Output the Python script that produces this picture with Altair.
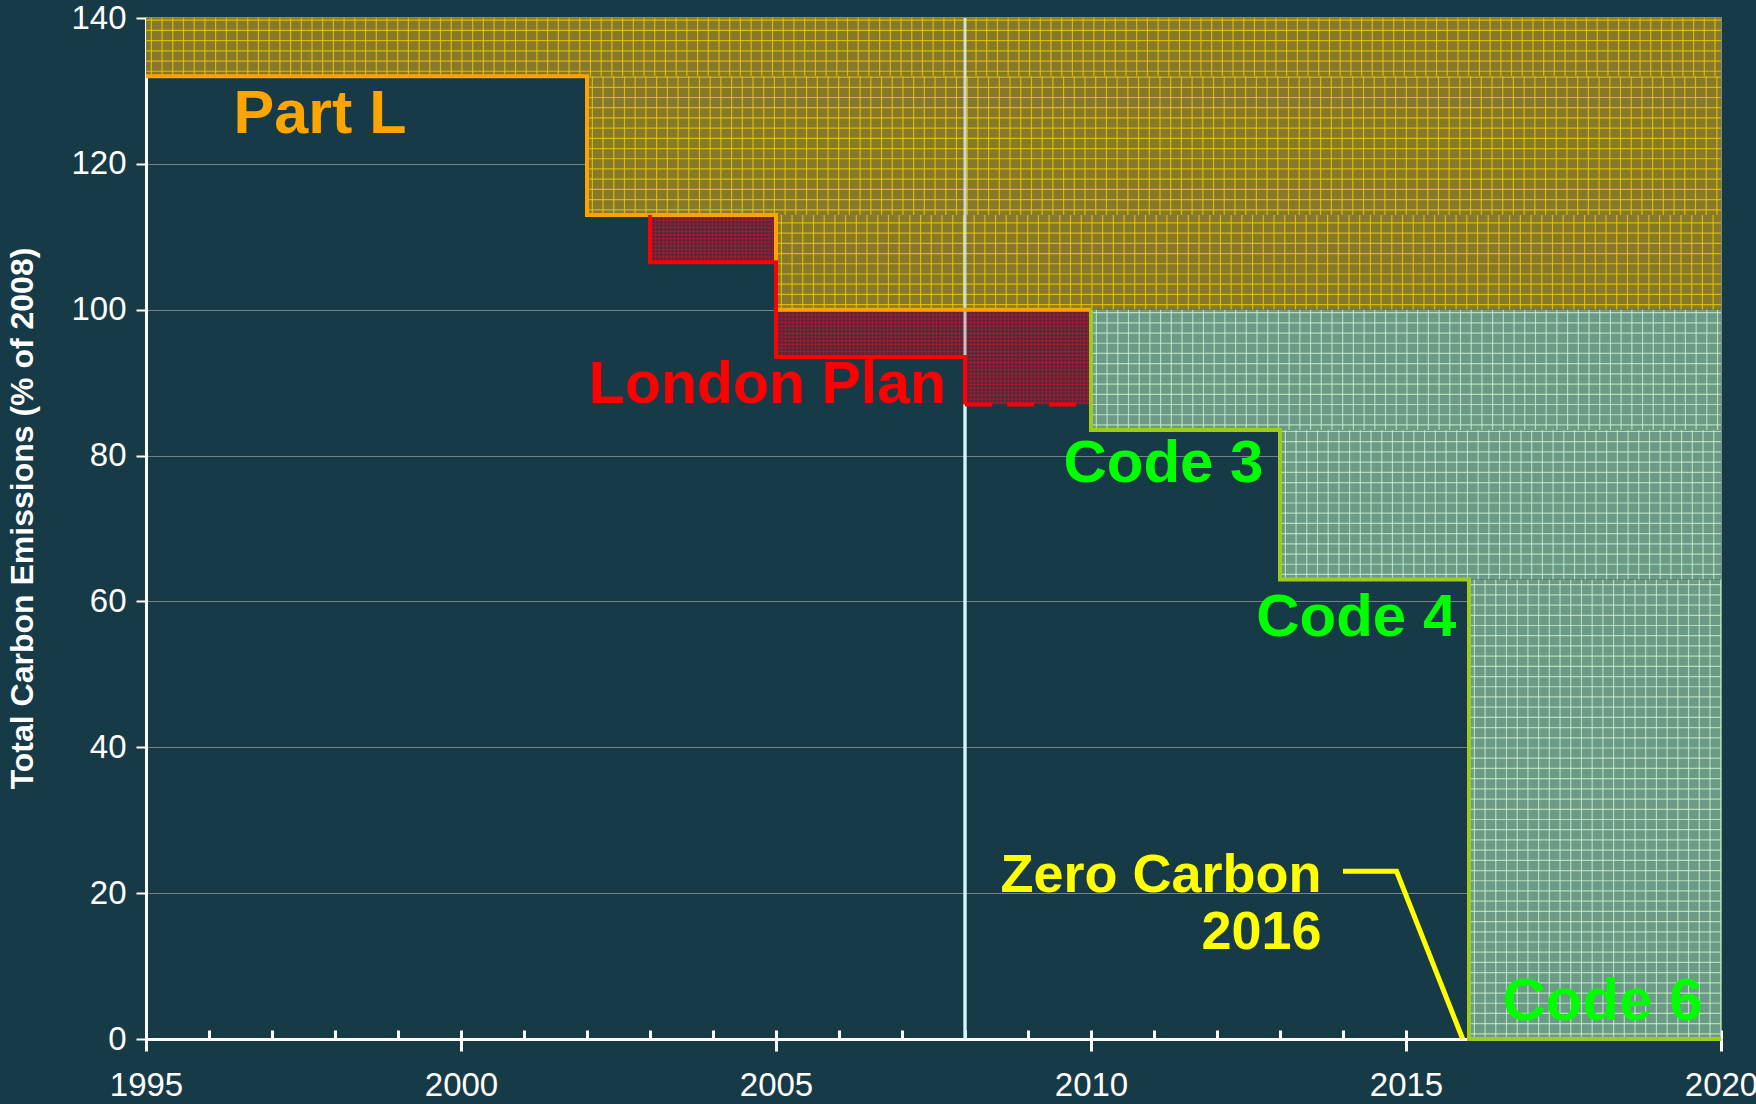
import altair as alt
import numpy as np
import pandas as pd

BG = "#173a47"
FONT = "Liberation Sans"

# Axis ticks
year_ticks = [1995, 2000, 2005, 2010, 2015, 2020]
minor_year_ticks = [1995, 1996, 1997, 1998, 1999, 2000, 2001, 2002, 2003, 2004,
                    2005, 2006, 2007, 2008, 2009, 2010, 2011, 2012, 2013, 2014,
                    2015, 2016, 2017, 2018, 2019, 2020]
level_ticks = [0, 20, 40, 60, 80, 100, 120, 140]

# Part L requirement (step line)
partl_years = [1995, 2002, 2005, 2010]
partl_levels = [132, 113, 100, 100]

# London Plan requirement (step line, then proposed level dashed)
london_years = [2003, 2003, 2005, 2008]
london_levels = [113, 106.5, 93.5, 87]
london_future_years = [2008, 2010]
london_future_levels = [87, 87]

# Code for Sustainable Homes trajectory
code_years = [2010, 2010, 2013, 2016, 2020]
code_levels = [100, 83.5, 63, 0, 0]

# Shaded bands: start year, end year, lower level, upper level
partl_band_start = [1995, 2002, 2005]
partl_band_end = [2020, 2020, 2020]
partl_band_low = [132, 113, 100]
partl_band_high = [140, 132, 113]

london_band_start = [2003, 2005, 2008]
london_band_end = [2005, 2008, 2010]
london_band_low = [106.5, 93.5, 87]
london_band_high = [113, 100, 100]

code_band_start = [2010, 2013, 2016]
code_band_end = [2020, 2020, 2020]
code_band_low = [83.5, 63, 0]
code_band_high = [100, 83.5, 63]

# Reference year marker
base_year = [2008]

# Zero Carbon pointer
pointer_years = [2014.0, 2014.85, 2015.9]
pointer_levels = [23, 23, 0]

x_scale = alt.Scale(domain=[1995, 2020], nice=False, zero=False)
y_scale = alt.Scale(domain=[0, 140], nice=False, zero=True)


def bands(starts, ends, lows, highs):
    return pd.DataFrame({"x": starts, "x2": ends, "y": lows, "y2": highs})


def hatch(df, dx, dy):
    vert, horiz = [], []
    for r in df.itertuples():
        for xv in np.arange(r.x + dx / 2, r.x2, dx):
            vert.append({"x": xv, "y": r.y, "y2": r.y2})
        for yv in np.arange(r.y + dy / 2, r.y2, dy):
            horiz.append({"x": r.x, "x2": r.x2, "y": yv})
    return pd.DataFrame(vert), pd.DataFrame(horiz)


def steps(xs, ys):
    return pd.DataFrame({"x": xs, "y": ys, "i": list(range(len(xs)))})


X = lambda: alt.X("x:Q", scale=x_scale, axis=None)
Y = lambda: alt.Y("y:Q", scale=y_scale, axis=None)


def band_layers(df, fill, line, line_opacity, dx, dy):
    vert, horiz = hatch(df, dx, dy)
    base = alt.Chart(df).mark_rect(color=fill).encode(x=X(), x2="x2:Q", y=Y(), y2="y2:Q")
    v = alt.Chart(vert).mark_rule(color=line, strokeWidth=1.2, opacity=line_opacity).encode(
        x=X(), y=Y(), y2="y2:Q")
    h = alt.Chart(horiz).mark_rule(color=line, strokeWidth=1.2, opacity=line_opacity).encode(
        x=X(), x2="x2:Q", y=Y())
    return [base, v, h]


partl_bands = bands(partl_band_start, partl_band_end, partl_band_low, partl_band_high)
london_bands = bands(london_band_start, london_band_end, london_band_low, london_band_high)
code_bands = bands(code_band_start, code_band_end, code_band_low, code_band_high)

marker_df = pd.DataFrame({"x": base_year, "y": [0], "y2": [140]})

# Marker line beneath the shading; also carries the y axis and the minor year ticks
marker_under = alt.Chart(marker_df).mark_rule(color="#b3f0ff", strokeWidth=3).encode(
    x=alt.X("x:Q", scale=x_scale,
            axis=alt.Axis(values=minor_year_ticks, orient="bottom", offset=-9, tickSize=9,
                          tickWidth=3, tickColor="white", domain=False, labels=False,
                          grid=False, title=None)),
    y=alt.Y("y:Q", scale=y_scale,
            axis=alt.Axis(values=level_ticks, orient="left", tickSize=10, tickWidth=2,
                          tickColor="white", domainColor="white", domainWidth=3, grid=True,
                          gridColor="#71838a", gridWidth=1.2, labelFontSize=33,
                          labelColor="white", labelFont=FONT, labelPadding=10,
                          title="Total Carbon Emissions (% of 2008)",
                          titleFontSize=32, titleFontWeight="bold", titleColor="white",
                          titleFont=FONT, titleX=-124, titleY=500, titleAngle=270,
                          titleAlign="center", titleBaseline="middle")),
    y2="y2:Q",
)
marker_over = alt.Chart(marker_df).mark_rule(color="#e0f8ff", strokeWidth=3, opacity=0.75).encode(
    x=X(), y=Y(), y2="y2:Q")

partl_line = alt.Chart(steps(partl_years, partl_levels)).mark_line(
    color="#ffa200", strokeWidth=4, interpolate="step-after").encode(
    x=alt.X("x:Q", scale=x_scale,
            axis=alt.Axis(values=year_ticks, format="d", orient="bottom", tickSize=12,
                          tickWidth=3, tickColor="white", domainColor="white", domainWidth=3,
                          labelFontSize=33, labelColor="white", labelFont=FONT,
                          labelPadding=18, labelFlush=False, grid=False, title=None)),
    y=Y(), order="i:Q")

london_line = alt.Chart(steps(london_years, london_levels)).mark_line(
    color="#ff0000", strokeWidth=4, interpolate="step-after").encode(
    x=X(), y=Y(), order="i:Q")

london_future = alt.Chart(steps(london_future_years, london_future_levels)).mark_line(
    color="#ff0000", strokeWidth=4, strokeDash=[27, 15]).encode(x=X(), y=Y(), order="i:Q")

code_line = alt.Chart(steps(code_years, code_levels)).mark_line(
    color="#9ccc1e", strokeWidth=4, interpolate="step-after").encode(
    x=X(), y=Y(), order="i:Q")

pointer = alt.Chart(steps(pointer_years, pointer_levels)).mark_line(
    color="#ffff00", strokeWidth=5).encode(x=X(), y=Y(), order="i:Q")


def label(text, year, level, color, align, size):
    df = pd.DataFrame({"x": [year], "y": [level], "t": [text]})
    return alt.Chart(df).mark_text(
        font=FONT, fontWeight="bold", fontSize=size, color=color, align=align,
        baseline="alphabetic").encode(x=X(), y=Y(), text="t:N")


labels = [
    label("Part L", 1996.39, 124.2, "#ffa500", "left", 61),
    label("London Plan", 2007.70, 87.2, "#ff0000", "right", 59),
    label("Code 3", 2011.15, 76.4, "#00ff00", "center", 60),
    label("Code 4", 2014.21, 55.3, "#00ff00", "center", 60),
    label("Code 6", 2018.12, 2.6, "#00ff00", "center", 60),
    label("Zero Carbon", 2013.66, 20.1, "#ffff00", "right", 54),
    label("2016", 2013.66, 12.4, "#ffff00", "right", 54),
]

layers = [marker_under]
layers += band_layers(partl_bands, "#87792a", "#e8c400", 0.85, 0.17, 1.4)
layers += band_layers(code_bands, "#6b9a86", "#cdf3cd", 0.75, 0.17, 1.4)
layers += band_layers(london_bands, "#4a2a3c", "#d01428", 0.55, 0.06, 0.5)
layers += [marker_over, partl_line, london_line, london_future, code_line, pointer]
layers += labels

chart = alt.layer(*layers).resolve_axis(x="independent", y="independent").properties(
    width=1575,
    height=1021,
    padding={"left": 146, "top": 18, "right": 35, "bottom": 65},
    autosize=alt.AutoSizeParams(type="none"),
    background=BG,
).configure_view(stroke="#7d8b90", strokeWidth=2)

chart.save("out.html", embed_options={"renderer": "svg", "actions": False})
